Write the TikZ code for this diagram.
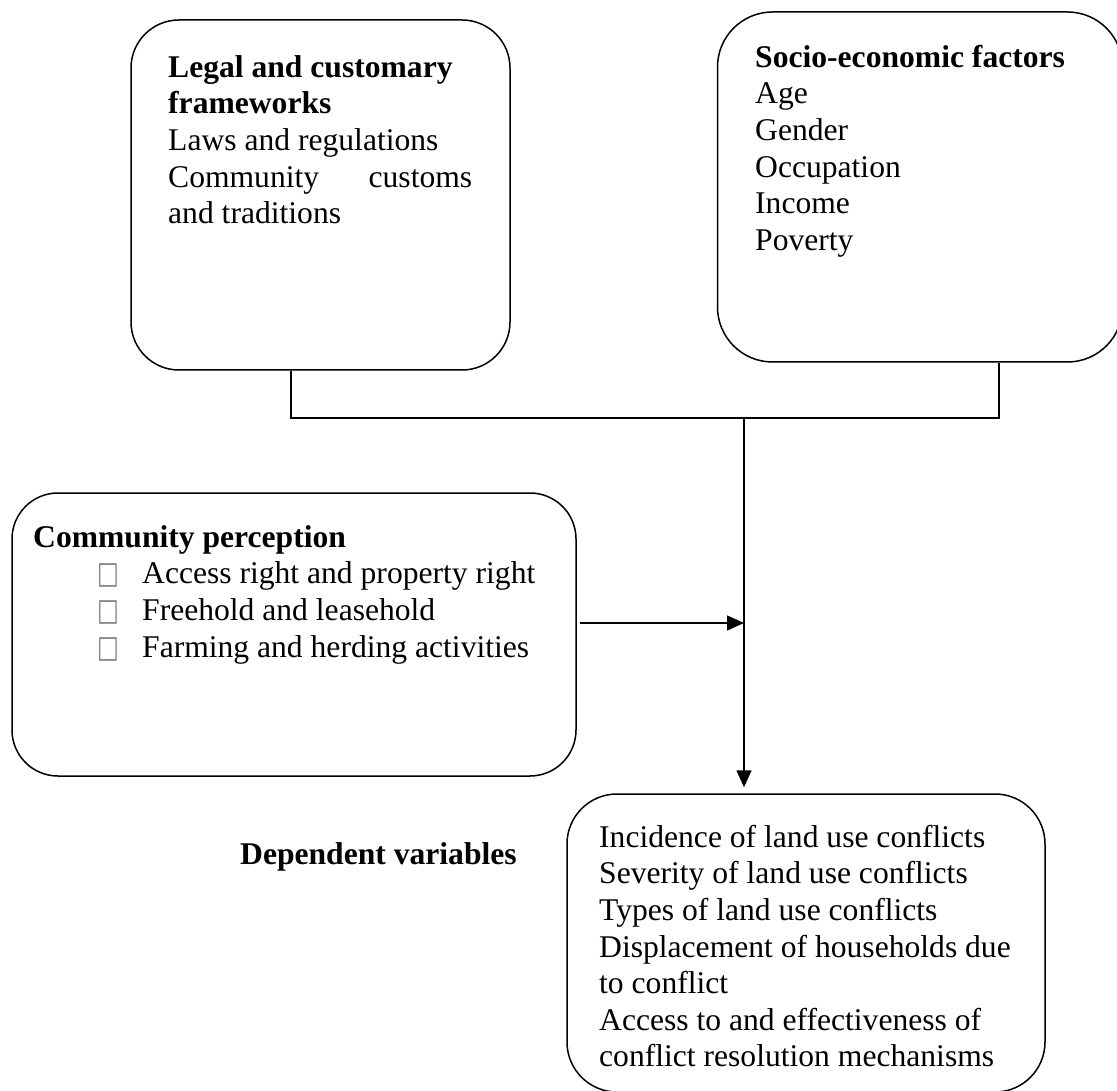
\documentclass[tikz,border=0pt]{standalone}
\usepackage{fontspec}
\usepackage{graphicx}
\setmainfont[Ligatures=NoCommon]{Liberation Serif}
\newfontfamily\dejavu{DejaVu Sans}
\usetikzlibrary{arrows.meta}
\newcommand{\sqbullet}{\makebox[45pt][l]{\textcolor{gray}{\scalebox{1.05}[1.4]{\dejavu\fontsize{22}{22}\selectfont □}}}}
\newcommand{\normsp}{\spaceskip=0pt\relax\xspaceskip=0pt\relax}
\begin{document}
\begin{tikzpicture}[x=1pt,y=-1pt,
  box/.style={draw, line width=1.5pt, rectangle, rounded corners=48pt, inner sep=0pt},
  txt/.style={inner sep=0pt, anchor=north west, align=left, font=\fontsize{31.6}{36.6}\selectfont},
  conn/.style={line width=1.5pt},
  arr/.style={line width=1.5pt, -{Triangle[length=17pt,width=15pt]}}]
\useasboundingbox (0,0) rectangle (1117,1091);
% boxes
\node[box, minimum width=379pt, minimum height=350pt] (b1) at (320.5,195) {};
\node[box, minimum width=405pt, minimum height=350pt, rounded corners=55pt] (b2) at (920,187) {};
\node[box, minimum width=564pt, minimum height=283pt, rounded corners=46pt] (b3) at (294,634.5) {};
\node[box, minimum width=478pt, minimum height=298pt, rounded corners=50pt] (b4) at (806,943) {};
% texts
\node[txt, text width=330pt] (t1) at (168,51.4) {\normsp\strut\textbf{Legal and customary}\\
  \textbf{frameworks}\\
  Laws and regulations\\
  \makebox[304pt][l]{Community\hfill customs}\\
  and traditions};
\node[txt, text width=360pt] (t2) at (755,41.4) {\normsp\strut\textbf{Socio-economic factors}\\
  Age\\ Gender\\ Occupation\\ Income\\ Poverty};
\node[txt, text width=540pt] (t3) at (33,521.4) {\normsp\strut\textbf{Community perception}\\
  \hspace*{64pt}\sqbullet Access right and property right\\
  \hspace*{64pt}\sqbullet Freehold and leasehold\\
  \hspace*{64pt}\sqbullet Farming and herding activities};
\node[txt, text width=440pt] (t4) at (599,821.4) {\normsp\strut Incidence of land use conflicts\\
  Severity of land use conflicts\\
  Types of land use conflicts\\
  Displacement of households due\\
  to conflict\\
  Access to and effectiveness of\\
  conflict resolution mechanisms};
\node[txt, anchor=base west] (dv) at (240,864) {\textbf{Dependent variables}};
% connectors
\coordinate (c1) at (291,418);
\coordinate (c2) at (999,418);
\coordinate (j) at (744,418);
\coordinate (k) at (744,623);
\draw[conn] (b1.south -| c1) -- (c1) -- (c2) -- (b2.south -| c2);
\draw[arr, shorten >=6pt] (j) -- (b4.north -| j);
\draw[arr, shorten <=3pt] (b3.east |- k) -- (k);
\end{tikzpicture}
\end{document}
